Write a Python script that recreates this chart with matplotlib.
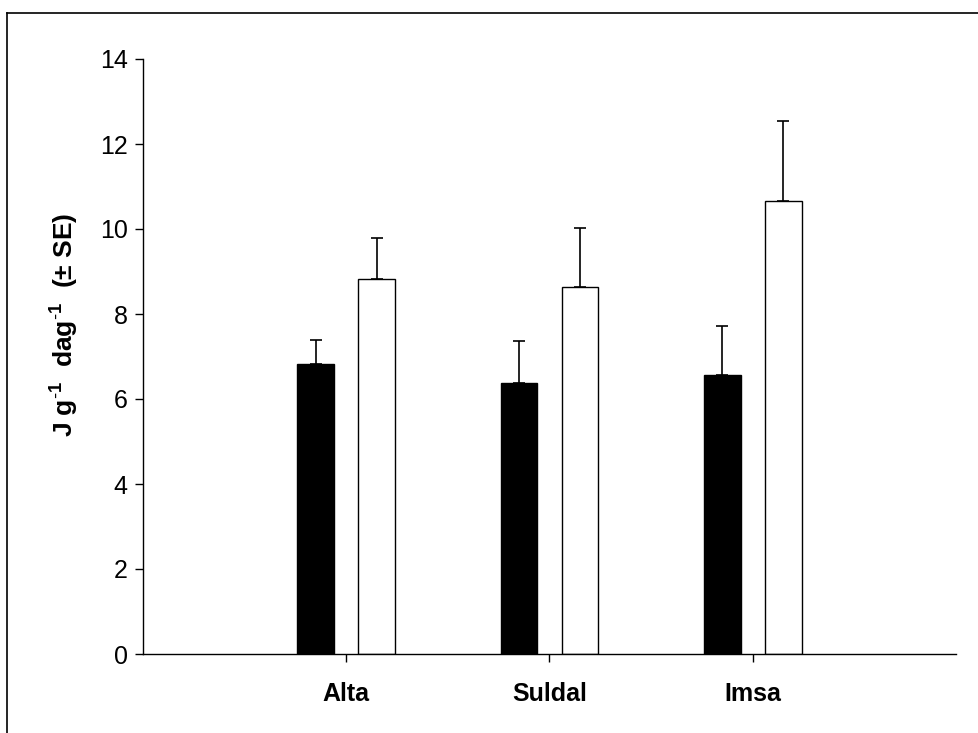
import numpy as np
import matplotlib.pyplot as plt
from matplotlib.lines import Line2D

# Values
sites = ["Alta", "Suldal", "Imsa"]
black_mean = [6.82, 6.38, 6.56]
black_se = [0.57, 0.98, 1.16]
white_mean = [8.82, 8.64, 10.66]
white_se = [0.97, 1.38, 1.88]
yticks = [0, 2, 4, 6, 8, 10, 12, 14]

plt.rcParams['font.family'] = ['Liberation Sans', 'DejaVu Sans']
plt.rcParams['mathtext.fontset'] = 'custom'
plt.rcParams['mathtext.rm'] = 'Liberation Sans'
plt.rcParams['mathtext.bf'] = 'Liberation Sans:bold'

W, H = 979, 733
fig = plt.figure(figsize=(W / 100, H / 100), dpi=100)
ax = fig.add_axes([143 / W, 1 - 654 / H, (956 - 143) / W, (654 - 59) / H])

x = np.arange(1, len(sites) + 1)
width = 0.18
off = 0.15
err_kw = dict(ecolor='black', elinewidth=1.2, capsize=4.5, capthick=1.2)
ax.bar(x - off, black_mean, width, color='black', edgecolor='black', linewidth=1.0,
       yerr=[np.zeros(3), black_se], error_kw=err_kw, zorder=2)
ax.bar(x + off, white_mean, width, color='white', edgecolor='black', linewidth=1.0,
       yerr=[np.zeros(3), white_se], error_kw=err_kw, zorder=2)

ax.set_xlim(0, 4)
ax.set_ylim(0, 14)
ax.set_yticks(yticks)
ax.set_xticks(x)
ax.set_xticklabels(sites, fontsize=18, fontweight='bold')
ax.tick_params(axis='y', labelsize=18, length=6, width=1.0, pad=5)
ax.tick_params(axis='x', length=6, width=1.0, pad=14)
ax.spines['top'].set_visible(False)
ax.spines['right'].set_visible(False)
for s in ['left', 'bottom']:
    ax.spines[s].set_linewidth(1.0)

ax.set_ylabel(r'J g$^{\mathbf{\text{-}1}}$  dag$^{\mathbf{\text{-}1}}$  (± SE)',
              fontsize=19, fontweight='bold')
ax.yaxis.set_label_coords(-0.0775, 0.553)

# outer frame (top and left edges visible in the reference)
fig.add_artist(Line2D([7 / W, 7 / W], [0, 1 - 13 / H], transform=fig.transFigure,
                      color='black', linewidth=1.2))
fig.add_artist(Line2D([7 / W, 1], [1 - 13 / H, 1 - 13 / H], transform=fig.transFigure,
                      color='black', linewidth=1.2))

fig.savefig('out.png', dpi=100)
